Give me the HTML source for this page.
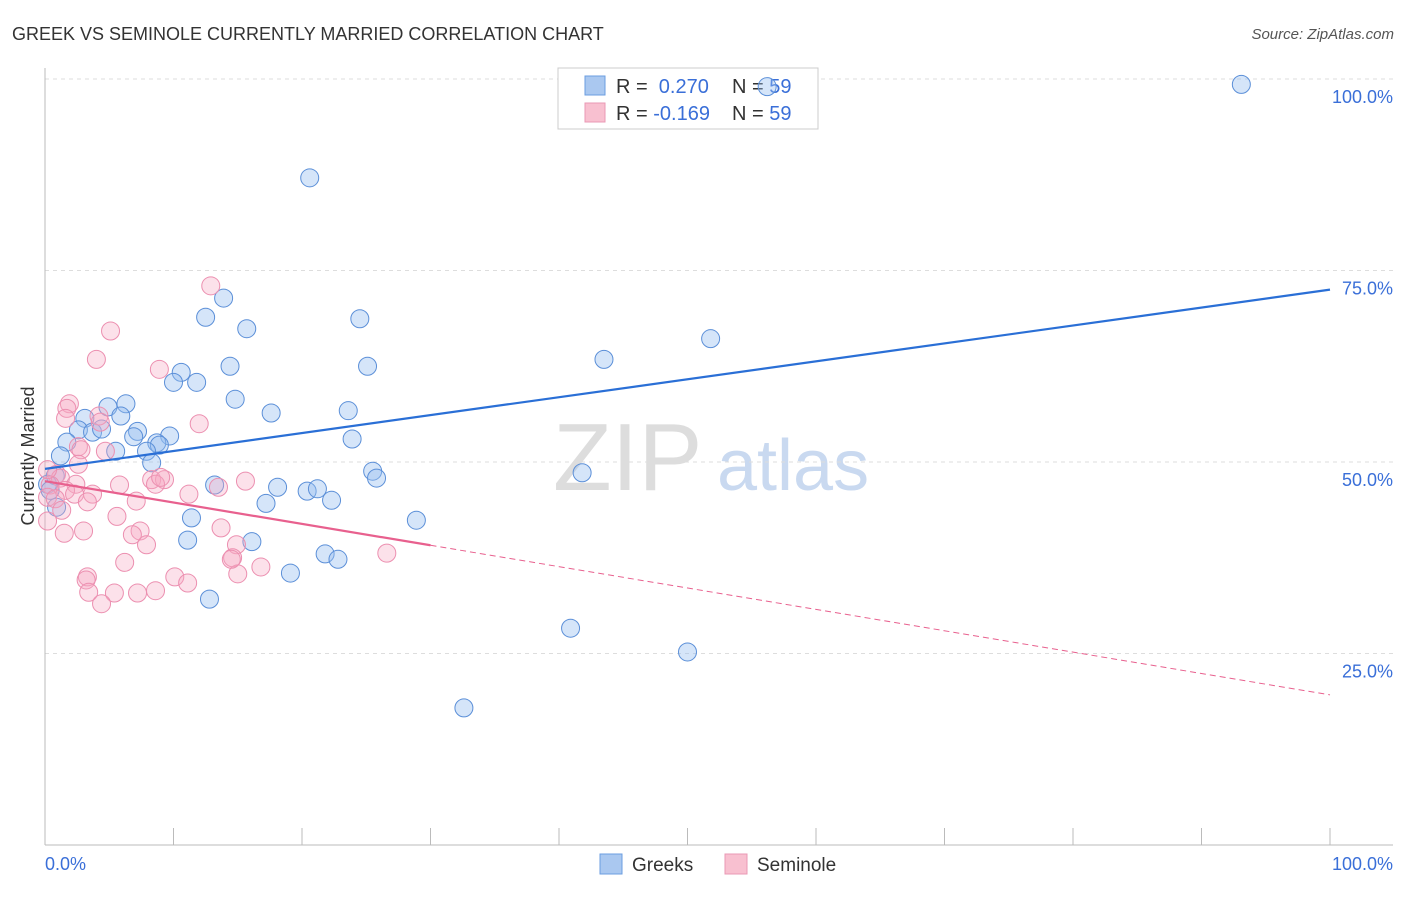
<!DOCTYPE html>
<html><head><meta charset="utf-8"><style>
body{margin:0;background:#fff;font-family:"Liberation Sans",sans-serif;}
svg text{font-family:"Liberation Sans",sans-serif;}
</style></head><body>
<svg width="1406" height="892" viewBox="0 0 1406 892">
<text x="12" y="40" font-size="18" fill="#333">GREEK VS SEMINOLE CURRENTLY MARRIED CORRELATION CHART</text>
<text x="1394" y="39" font-size="15" fill="#555" text-anchor="end" font-style="italic">Source: ZipAtlas.com</text>
<g>
<text x="553" y="490" font-size="96" fill="#ddd" font-family="Liberation Serif,serif">ZIP</text>
<text x="717" y="490" font-size="72" fill="#c9d9f0">atlas</text>
</g>
<g id="grid"></g>
<g id="axes"></g>
<g>
<rect x="558" y="68" width="260" height="61" fill="#fff" stroke="#ccc"/>
<rect x="585" y="76" width="20" height="19" fill="#aac8f0" stroke="#6b9ee0"/>
<rect x="585" y="103" width="20" height="19" fill="#f8c0d0" stroke="#ea98b4"/>
<text x="616" y="93" font-size="20" fill="#333">R = <tspan fill="#3a6fd8">&#160;0.270</tspan></text>
<text x="732" y="93" font-size="20" fill="#333">N = <tspan fill="#3a6fd8">59</tspan></text>
<text x="616" y="120" font-size="20" fill="#333">R = <tspan fill="#3a6fd8">-0.169</tspan></text>
<text x="732" y="120" font-size="20" fill="#333">N = <tspan fill="#3a6fd8">59</tspan></text>
</g>
<g id="marks"></g>
<text transform="translate(34,456) rotate(-90)" font-size="18" fill="#333" text-anchor="middle">Currently Married</text>
<g>
<rect x="600" y="854" width="22" height="20" fill="#aac8f0" stroke="#6b9ee0"/>
<text x="632" y="871" font-size="19" fill="#333">Greeks</text>
<rect x="725" y="854" width="22" height="20" fill="#f8c0d0" stroke="#ea98b4"/>
<text x="757" y="871" font-size="19" fill="#333">Seminole</text>
</g>
</svg>
<script>
const greekX=[56.2,93.1,20.6,13.9,12.5,15.7,24.5,51.8,43.5,14.4,25.1,10.6,10.0,11.8,14.8,6.3,4.9,3.1,5.9,17.6,23.6,7.2,2.6,3.7,4.4,9.7,6.9,1.7,8.7,8.9,7.9,5.5,23.9,1.2,8.3,25.5,25.8,41.8,0.8,0.2,0.4,13.2,18.1,20.4,21.2,22.3,17.2,28.9,0.9,11.4,11.1,16.1,21.8,22.8,19.1,12.8,40.9,50.0,32.6];
const greekY=[99.0,99.3,87.1,71.4,68.9,67.4,68.7,66.1,63.4,62.5,62.5,61.7,60.4,60.4,58.2,57.6,57.2,55.7,56.0,56.4,56.7,54.0,54.2,53.9,54.3,53.4,53.3,52.6,52.5,52.2,51.4,51.4,53.0,50.8,49.9,48.8,47.9,48.6,48.2,47.1,46.3,47.0,46.7,46.2,46.5,45.0,44.6,42.4,44.1,42.7,39.8,39.6,38.0,37.3,35.5,32.1,28.3,25.2,17.9];
const semX=[12.9,5.1,4.0,8.9,1.9,1.7,1.6,4.2,2.6,2.8,12.0,4.7,2.6,0.9,1.2,2.4,0.4,1.6,2.3,3.7,5.8,8.3,9.3,11.2,13.5,15.6,0.2,3.3,7.1,0.8,0.2,1.5,3.0,5.6,7.4,6.8,7.9,13.7,14.9,14.6,6.2,16.8,15.0,26.6,3.3,3.2,3.4,5.4,7.2,8.6,10.1,11.1,4.4,8.6,4.3,1.3,0.2,14.5,9.0];
const semY=[73.0,67.1,63.4,62.1,57.6,57.0,55.7,56.0,52.0,51.6,55.0,51.4,49.7,48.4,47.9,47.1,47.0,46.3,45.8,45.8,47.0,47.7,47.7,45.8,46.7,47.5,45.4,44.8,44.9,45.2,42.3,40.7,41.0,42.9,41.0,40.5,39.2,41.4,39.2,37.5,36.9,36.3,35.4,38.1,35.0,34.6,33.0,32.9,32.9,33.2,35.0,34.2,31.5,47.1,55.2,43.7,49.0,37.3,48.0];
const greekTrend=[49.1,72.5];
const semTrend=[47.5,19.6];
const semSolidEnd=30;
const yTicks=[25,50,75,100];
const yTickLabels=["25.0%","50.0%","75.0%","100.0%"];
const xTicks=[0,10,20,30,40,50,60,70,80,90,100];
const xEndLabels=["0.0%","100.0%"];
const NS="http://www.w3.org/2000/svg";
const X=v=>45+v*12.85, Y=v=>845-v*7.66;
function mk(tag,attrs,parent){const e=document.createElementNS(NS,tag);for(const k in attrs)e.setAttribute(k,attrs[k]);parent.appendChild(e);return e;}
const grid=document.getElementById('grid'),axes=document.getElementById('axes'),marks=document.getElementById('marks');
yTicks.forEach((t,i)=>{
 const l=mk('line',{x1:45,x2:1393,y1:Y(t),y2:Y(t),stroke:'#ddd','stroke-dasharray':'4,4'},grid);
 
 
 const tx=mk('text',{x:1393,y:Y(t)+24,'font-size':18,fill:'#3a6fd8','text-anchor':'end'},axes);
 tx.textContent=yTickLabels[i];
 
 
});
const ya=mk('line',{x1:45,x2:45,y1:68,y2:845,stroke:'#bbb'},axes);


const xa=mk('line',{x1:45,x2:1393,y1:845,y2:845,stroke:'#bbb'},axes);


xTicks.forEach(t=>{const l=mk('line',{x1:X(t),x2:X(t),y1:828,y2:845,stroke:'#bbb'},axes);
 
 });
[[0,'start',45],[100,'end',1393]].forEach((d,i)=>{const tx=mk('text',{x:d[2],y:870,'font-size':18,fill:'#3a6fd8','text-anchor':d[1]},axes);tx.textContent=xEndLabels[i];
 
 });
greekX.forEach((x,i)=>{const c=mk('circle',{cx:X(x),cy:Y(greekY[i]),r:9,fill:'rgba(150,190,240,0.4)',stroke:'#5b8fd8','stroke-width':1},marks);
 
 });
semX.forEach((x,i)=>{const c=mk('circle',{cx:X(x),cy:Y(semY[i]),r:9,fill:'rgba(245,170,195,0.35)',stroke:'#ec8fb0','stroke-width':1},marks);
 
 });
const bl=mk('line',{x1:X(0),y1:Y(greekTrend[0]),x2:X(100),y2:Y(greekTrend[1]),stroke:'#2a6fd6','stroke-width':2.2},marks);


const sEnd=semTrend[0]+(semTrend[1]-semTrend[0])*semSolidEnd/100;
const pl=mk('line',{x1:X(0),y1:Y(semTrend[0]),x2:X(semSolidEnd),y2:Y(sEnd),stroke:'#e8608e','stroke-width':2.2},marks);


const pd=mk('line',{x1:X(semSolidEnd),y1:Y(sEnd),x2:X(100),y2:Y(semTrend[1]),stroke:'#e8608e','stroke-width':1,'stroke-dasharray':'6,4'},marks);


</script>
</body></html>
